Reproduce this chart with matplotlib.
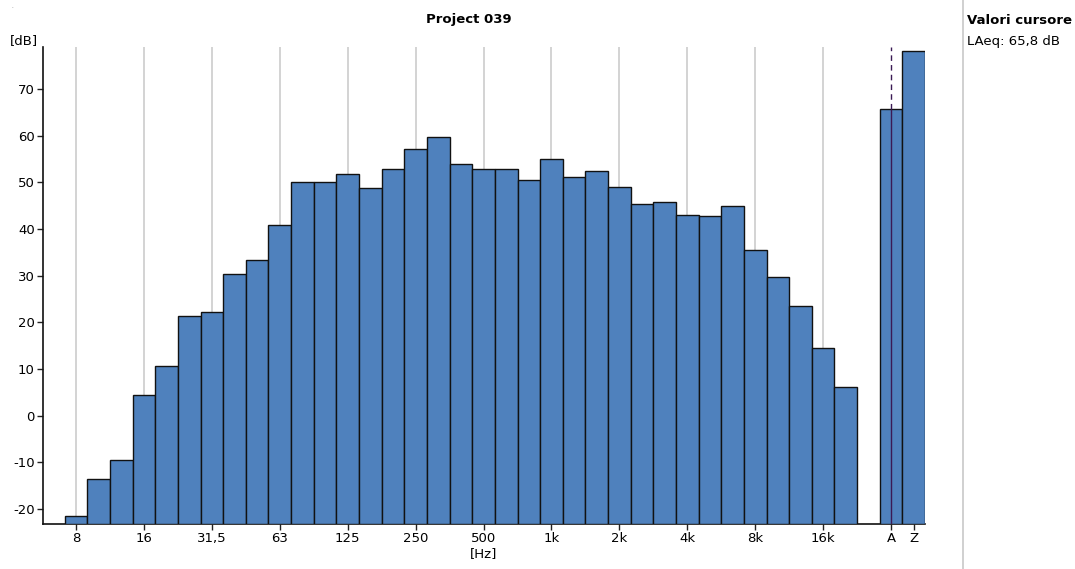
import numpy as np
import matplotlib.pyplot as plt
from matplotlib.lines import Line2D

# third-octave bands 8 Hz .. 20 kHz, then A and Z totals
bands = ["8", "10", "12,5", "16", "20", "25", "31,5", "40", "50", "63",
         "80", "100", "125", "160", "200", "250", "315", "400", "500", "630",
         "800", "1k", "1,25k", "1,6k", "2k", "2,5k", "3,15k", "4k", "5k", "6,3k",
         "8k", "10k", "12,5k", "16k", "20k"]
levels = [-21.5, -13.6, -9.5, 4.4, 10.7, 21.4, 22.2, 30.4, 33.4, 40.9,
          50.0, 50.0, 51.7, 48.7, 52.8, 57.1, 59.7, 53.9, 52.9, 52.8,
          50.4, 54.9, 51.2, 52.4, 49.1, 45.3, 45.7, 42.9, 42.7, 44.9,
          35.4, 29.7, 23.5, 14.5, 6.1]
totals_labels = ["A", "Z"]
totals = [65.8, 78.1]

tick_labels = ["8", "16", "31,5", "63", "125", "250", "500", "1k", "2k", "4k", "8k", "16k"]
y_ticks = [-20, -10, 0, 10, 20, 30, 40, 50, 60, 70]

title = "Project 039"
cursor_title = "Valori cursore"
cursor_text = "LAeq: 65,8 dB"

bar_color = "#4f81bd"
edge_color = "#111111"
font = "DejaVu Sans"

plt.rcParams["font.family"] = font
plt.rcParams["font.size"] = 9

fig = plt.figure(figsize=(10.75, 5.69), dpi=100)
ax = fig.add_axes([43 / 1075, 1 - 524 / 569, (925 - 43) / 1075, (524 - 47) / 569])

ymin, ymax = -23.2, 79.0
x_bands = np.arange(len(bands))
x_tot = np.arange(len(totals)) + len(bands) + 1

ax.bar(x_bands, np.array(levels) - ymin, bottom=ymin, width=1.0,
       color=bar_color, edgecolor=edge_color, linewidth=1.0, zorder=3)
ax.bar(x_tot, np.array(totals) - ymin, bottom=ymin, width=1.0,
       color=bar_color, edgecolor=edge_color, linewidth=1.0, zorder=3)

# vertical grid at labelled bands
tick_pos = [bands.index(t) for t in tick_labels]
for p in tick_pos:
    ax.axvline(p, color="#d0d0d0", linewidth=1.3, zorder=1)

# cursor on A
cx = x_tot[0]
ax.vlines(cx, ymin, totals[0], color="#3b1a55", linewidth=1.0, zorder=4)
ax.vlines(cx, totals[0], ymax, color="#3b1a55", linewidth=1.0,
          linestyles=(0, (4, 3)), zorder=4)

ax.set_xlim(-1.46, x_tot[-1] + 0.5)
ax.set_ylim(ymin, ymax)

ax.set_xticks(list(tick_pos) + list(x_tot))
ax.set_xticklabels(tick_labels + totals_labels, fontsize=9.5)
ax.set_yticks(y_ticks)
ax.set_yticklabels([str(v) for v in y_ticks], fontsize=9.5)
ax.tick_params(axis="both", length=4, width=1, color="#222222", pad=2)

for s in ["top", "right"]:
    ax.spines[s].set_visible(False)
for s in ["left", "bottom"]:
    ax.spines[s].set_color("#111111")
    ax.spines[s].set_linewidth(1.2)

ax.set_xlabel("[Hz]", fontsize=9.5, labelpad=1)
fig.text(10 / 1075, 1 - 41 / 569, "[dB]", fontsize=9.5, va="center", ha="left")
fig.text(469 / 1075, 1 - 20 / 569, title, fontsize=9.5, fontweight="bold",
         ha="center", va="center")

# cursor panel on the right
fig.add_artist(Line2D([963 / 1075, 963 / 1075], [0, 1], transform=fig.transFigure,
                      color="#c8c8c8", linewidth=1.2))
fig.text(967 / 1075, 1 - 20 / 569, cursor_title, fontsize=9.5, fontweight="bold",
         ha="left", va="center")
fig.text(967 / 1075, 1 - 41 / 569, cursor_text, fontsize=9.5, ha="left", va="center")
fig.text(11 / 1075, 1 - 8 / 569, ".", fontsize=4, color="#666666")

fig.savefig("out.png", dpi=100)
